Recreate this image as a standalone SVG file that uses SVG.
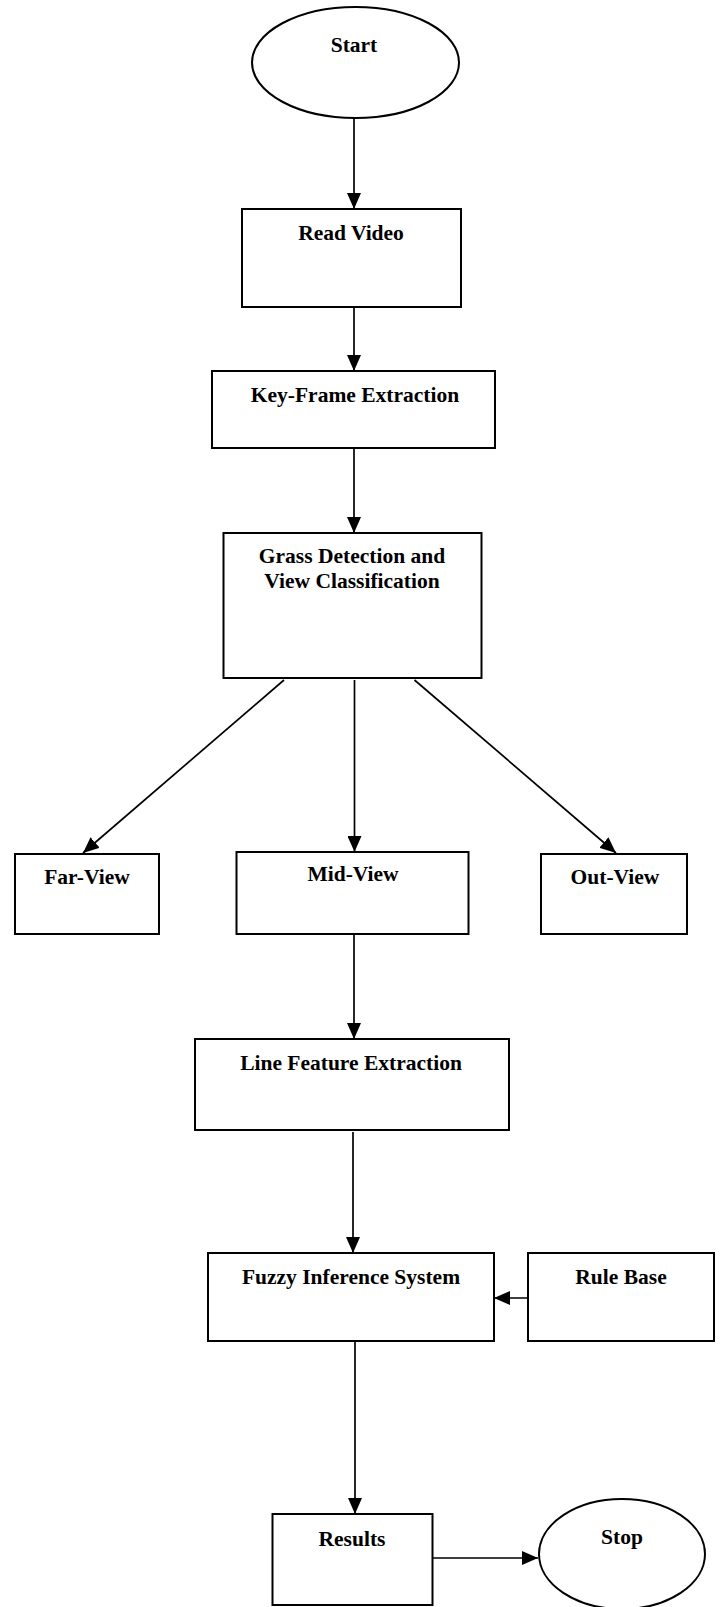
<svg xmlns="http://www.w3.org/2000/svg" width="722" height="1607" viewBox="0 0 722 1607">
<style>
.box{fill:#fff;stroke:#000;stroke-width:2}
.t{font-family:"Liberation Serif","Times New Roman",serif;font-weight:bold;font-size:21.5px;text-anchor:middle;fill:#000}
.c{stroke:#000;stroke-width:1.7;fill:none}
</style>
<defs>
<marker id="ah" markerUnits="userSpaceOnUse" markerWidth="16" markerHeight="14" refX="16" refY="7" orient="auto">
<path d="M0,0 L16,7 L0,14 z" fill="#000"/>
</marker>
</defs>
<rect width="722" height="1607" fill="#fff"/>
<g id="connectors">
<line class="c" x1="354" y1="118" x2="354" y2="209" marker-end="url(#ah)"/>
<line class="c" x1="354" y1="307" x2="354" y2="371" marker-end="url(#ah)"/>
<line class="c" x1="354" y1="449" x2="354" y2="533" marker-end="url(#ah)"/>
<line class="c" x1="284" y1="680" x2="83" y2="853" marker-end="url(#ah)"/>
<line class="c" x1="354.5" y1="680" x2="354.5" y2="852" marker-end="url(#ah)"/>
<line class="c" x1="414.5" y1="680" x2="616" y2="853" marker-end="url(#ah)"/>
<line class="c" x1="354" y1="935" x2="354" y2="1039" marker-end="url(#ah)"/>
<line class="c" x1="353" y1="1132" x2="353" y2="1253" marker-end="url(#ah)"/>
<line class="c" x1="528" y1="1298" x2="494" y2="1298" marker-end="url(#ah)"/>
<line class="c" x1="355" y1="1342" x2="355" y2="1514" marker-end="url(#ah)"/>
<line class="c" x1="433" y1="1558" x2="538" y2="1558" marker-end="url(#ah)"/>
</g>
<g id="start">
<ellipse class="box" cx="355.5" cy="62.5" rx="103.5" ry="55.5"/>
<text class="t" x="354" y="52">Start</text>
</g>
<g id="read-video">
<rect class="box" x="242" y="209" width="219" height="98"/>
<text class="t" x="351" y="240">Read Video</text>
</g>
<g id="key-frame">
<rect class="box" x="212" y="371" width="283" height="77"/>
<text class="t" x="355" y="402">Key-Frame Extraction</text>
</g>
<g id="grass">
<rect class="box" x="223.5" y="533" width="258" height="145"/>
<text class="t" x="352" y="563">Grass Detection and</text>
<text class="t" x="352" y="588">View Classification</text>
</g>
<g id="far-view">
<rect class="box" x="15" y="854" width="144" height="80"/>
<text class="t" x="87" y="884">Far-View</text>
</g>
<g id="mid-view">
<rect class="box" x="236.5" y="852" width="232" height="82"/>
<text class="t" x="353" y="881">Mid-View</text>
</g>
<g id="out-view">
<rect class="box" x="541" y="854" width="146" height="80"/>
<text class="t" x="615" y="884">Out-View</text>
</g>
<g id="line-feature">
<rect class="box" x="195" y="1039" width="314" height="91"/>
<text class="t" x="351" y="1070">Line Feature Extraction</text>
</g>
<g id="fuzzy">
<rect class="box" x="208" y="1253" width="286" height="88"/>
<text class="t" x="351" y="1284">Fuzzy Inference System</text>
</g>
<g id="rule-base">
<rect class="box" x="528" y="1253" width="186" height="88"/>
<text class="t" x="621" y="1284">Rule Base</text>
</g>
<g id="results">
<rect class="box" x="272.5" y="1514" width="160" height="91"/>
<text class="t" x="352" y="1546">Results</text>
</g>
<g id="stop">
<ellipse class="box" cx="622" cy="1554" rx="83" ry="55"/>
<text class="t" x="622" y="1544">Stop</text>
</g>
</svg>
